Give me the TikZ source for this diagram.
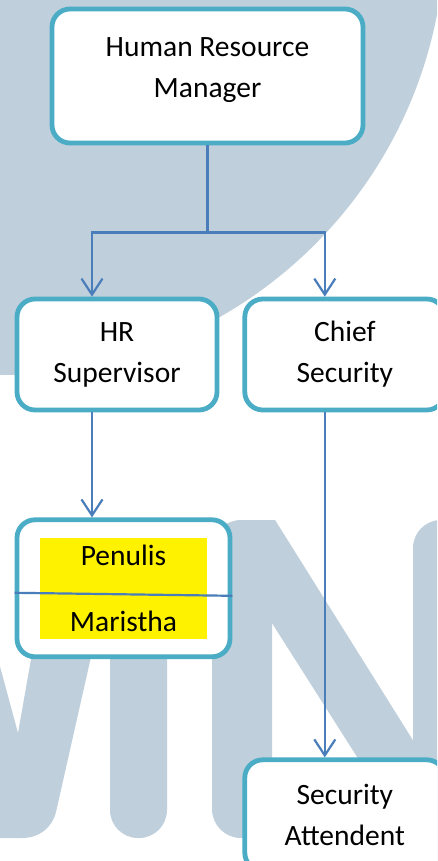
\documentclass[tikz,border=0pt]{standalone}
\usepackage{fontspec}
\setmainfont{Carlito}
\usepackage{xcolor}
\usetikzlibrary{arrows.meta,positioning}
\definecolor{boxteal}{HTML}{4BACC6}
\definecolor{linkblue}{HTML}{4A7EBB}
\definecolor{markgray}{HTML}{C0CFDC}

\begin{document}
\begin{tikzpicture}[
  x=1pt, y=-1pt,
  font=\fontsize{29.5}{41}\selectfont,
  orgbox/.style={draw=boxteal, line width=4.8pt, fill=white, rounded corners=18pt,
               align=center, minimum width=200pt, minimum height=111pt},
  link/.style={draw=linkblue, line width=2.2pt},
  arr/.style={link, -{Straight Barb[length=16pt,width=21pt]}},
  wmark/.style={fill=markgray}
]
\useasboundingbox (0,0) rectangle (437,861);
\clip (0,0) rectangle (437,861);
\fill[white] (0,0) rectangle (437,861);

% watermark in the background
\fill[wmark] (0,-70) circle[radius=445pt];
\fill[wmark] (-5,648) -- (18,733) -- (33,648) -- (93,648) -- (56,812)
  to[out=-104,in=0] (22,838) -- (-5,838) -- cycle;
\fill[wmark, rounded corners=28pt] (110,600) rectangle (167,838);
\fill[wmark, rounded corners=29pt] (212,520) rectangle (272,838);
\fill[wmark, rounded corners=28pt] (413,520) rectangle (480,900);
\begin{scope}
  \clip (242,520) rectangle (420,900);
  \fill[wmark] (250,480) -- (513,900) -- (448,900) -- (181,480) -- cycle;
\end{scope}

% chart
\node[orgbox, minimum width=311pt, minimum height=134pt] (hrm) at (207.5,76)
  {Human Resource\\Manager\rule[-17pt]{0pt}{17pt}};
\node[orgbox] (hr) at (117,354.5) {HR\\Supervisor};
\node[orgbox, right=23pt of hr] (chief) {Chief\\Security};
\node[orgbox, minimum width=213pt, minimum height=137pt,
      below=105pt of hr.south west, anchor=north west,
      path picture={\fill[yellow, sharp corners] (path picture bounding box.center)
        +(-83.5,-50.5) rectangle +(83.5,50.5);}] (pen) {Penulis\\[25pt]Maristha};
\node[orgbox, below=345pt of chief] (sa) {Security\\Attendent};

\coordinate[below=87pt of hrm.south] (split);
\draw[link] (hrm.south) -- (split);
\draw[arr] (split) -| ([xshift=-25pt]hr.north);
\draw[arr] (split) -| ([xshift=-20pt]chief.north);
\draw[arr] ([xshift=-25pt]hr.south) -- ([xshift=-25pt]hr.south |- pen.north);
\draw[arr] ([xshift=-20pt]chief.south) -- ([xshift=-20pt]chief.south |- sa.north);
\draw[link] ([yshift=-4.5pt]pen.west) -- ([yshift=-7.5pt]pen.east);
\end{tikzpicture}
\end{document}
